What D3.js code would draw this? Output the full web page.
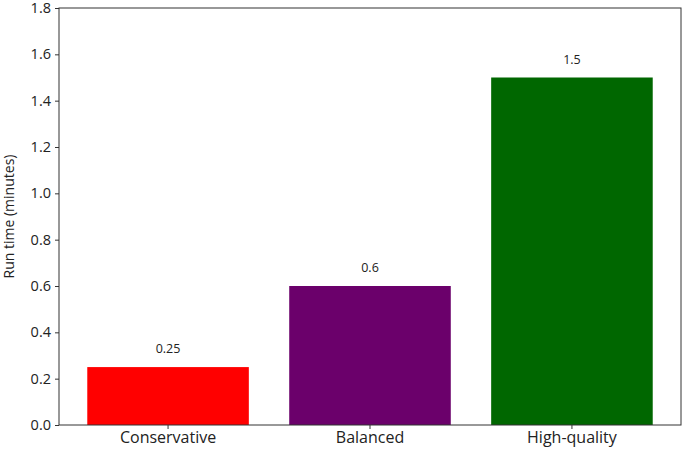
<!DOCTYPE html>
<html><head><meta charset="utf-8">
<script src="https://cdn.jsdelivr.net/npm/d3@7"></script>
<style>body{margin:0;background:#fff}svg{display:block}text{font-family:"Open Sans",Roboto,sans-serif;fill:#222}</style>
</head><body>
<svg id="c" width="685" height="453"></svg>
<script>
const categories = ["Conservative", "Balanced", "High-quality"];
const values = [0.25, 0.6, 1.5];
const colors = ["#ff0000", "#6b006b", "#006700"];
const yTicks = [0.0, 0.2, 0.4, 0.6, 0.8, 1.0, 1.2, 1.4, 1.6, 1.8];

const svg = d3.select("#c");
const L = 59, R = 681, T = 8, B = 425;
const x = d3.scaleBand().domain(categories).range([L, R]).paddingInner(0.2).paddingOuter(0.14);
const y = d3.scaleLinear().domain([0, 1.8]).range([B, T]);

svg.selectAll("rect.bar").data(values).enter().append("rect")
  .attr("x", (d, i) => x(categories[i]))
  .attr("width", x.bandwidth())
  .attr("y", d => y(d))
  .attr("height", d => y(0) - y(d))
  .attr("fill", (d, i) => colors[i]);

svg.selectAll("text.val").data(values).enter().append("text")
  .attr("x", (d, i) => x(categories[i]) + x.bandwidth() / 2)
  .attr("y", d => y(d) - 14)
  .attr("text-anchor", "middle")
  .style("font-size", "12.5px")
  .text(d => String(d));

const ya = svg.append("g").attr("transform", `translate(${L},0)`)
  .call(d3.axisLeft(y).tickValues(yTicks).tickFormat(d3.format(".1f")).tickSizeOuter(0).tickSize(4).tickPadding(4));
const xa = svg.append("g").attr("transform", `translate(0,${B})`)
  .call(d3.axisBottom(x).tickSizeOuter(0).tickSize(4).tickPadding(3));
[ya, xa].forEach(g => {
  g.select(".domain").remove();
  g.selectAll(".tick line").attr("stroke", "#333");
  g.selectAll(".tick text").style("font-size", "14.5px").attr("fill", "#222").style("font-family", '"Open Sans",sans-serif');
});
xa.selectAll(".tick text").style("font-size", "16px");

svg.append("rect").attr("x", L).attr("y", T).attr("width", R - L).attr("height", B - T)
  .attr("fill", "none").attr("stroke", "#333").attr("stroke-width", 1);

svg.append("text").attr("transform", `translate(14,${(T + B) / 2}) rotate(-90)`)
  .attr("text-anchor", "middle").style("font-size", "14px").text("Run time (minutes)");
</script>
</body></html>
